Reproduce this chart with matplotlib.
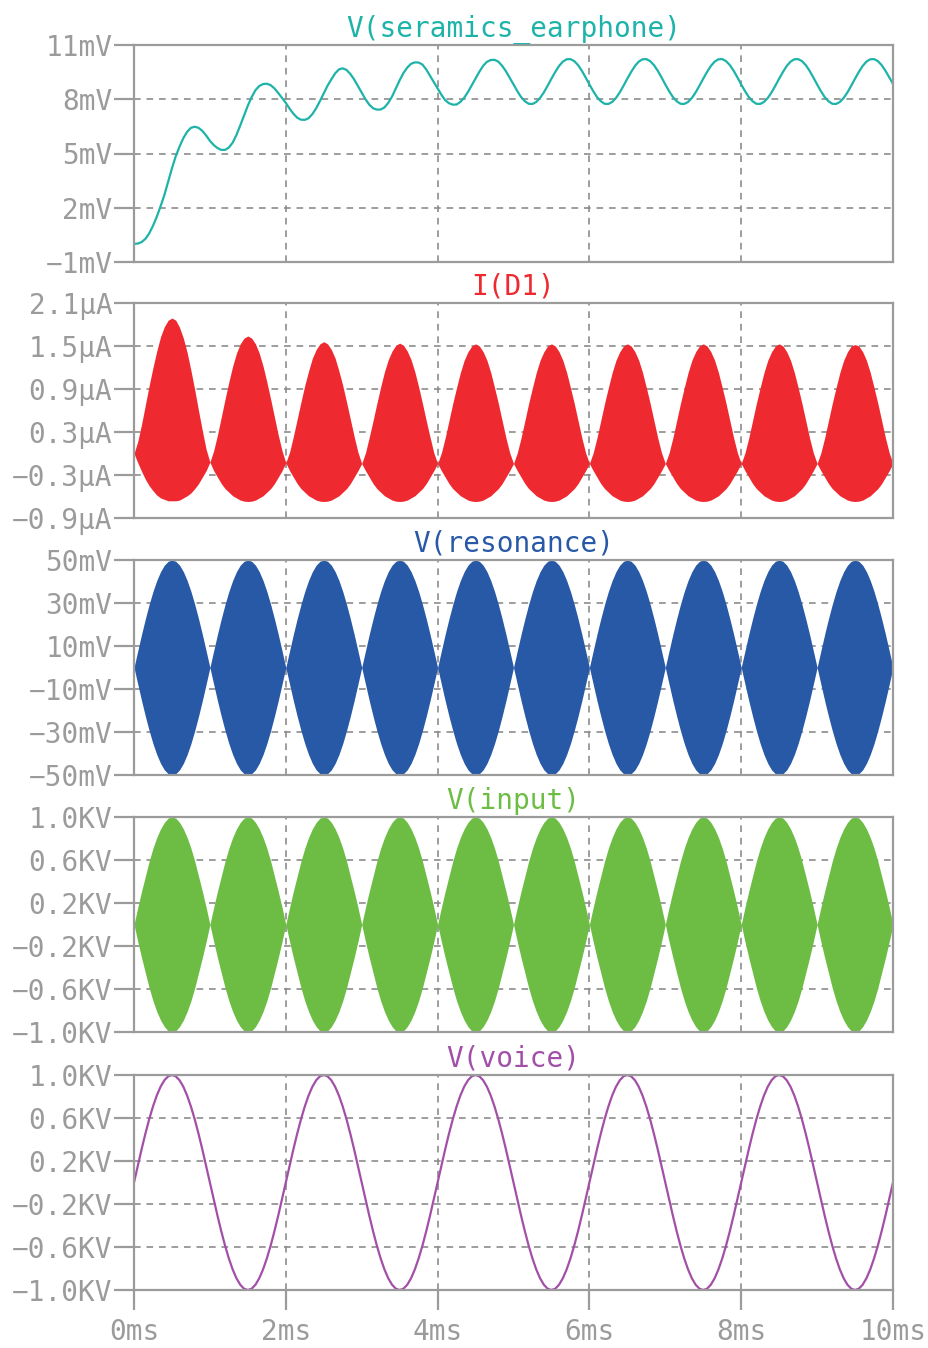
import numpy as np
import matplotlib
matplotlib.use("Agg")
import matplotlib.pyplot as plt
from matplotlib.ticker import FixedLocator, FixedFormatter

# ---------------- data (sampled every 0.05 ms, 0..10 ms) ----------------
t = np.linspace(0, 10, 201)  # ms

earphone_mV = [
    0.0, 0.02, 0.1, 0.28, 0.58, 1.0, 1.5, 2.08, 2.7, 3.45,
    4.18, 4.85, 5.38, 5.85, 6.2, 6.42, 6.48, 6.42, 6.25, 6.0,
    5.7, 5.47, 5.3, 5.2, 5.2, 5.33, 5.6, 6.03, 6.55, 7.1,
    7.65, 8.12, 8.5, 8.73, 8.84, 8.86, 8.78, 8.6, 8.35, 8.08,
    7.8, 7.48, 7.2, 6.98, 6.87, 6.86, 6.95, 7.18, 7.5, 7.9,
    8.33, 8.75, 9.1, 9.43, 9.65, 9.71, 9.62, 9.4, 9.1, 8.73,
    8.35, 8.0, 7.7, 7.5, 7.43, 7.43, 7.55, 7.8, 8.15, 8.6,
    9.05, 9.45, 9.75, 9.96, 10.04, 10.03, 9.92, 9.65, 9.3, 8.95,
    8.6, 8.25, 7.95, 7.78, 7.7, 7.71, 7.85, 8.08, 8.4, 8.77,
    9.15, 9.52, 9.85, 10.07, 10.17, 10.18, 10.08, 9.85, 9.55, 9.19,
    8.82, 8.45, 8.12, 7.89, 7.75, 7.74, 7.85, 8.07, 8.38, 8.75,
    9.14, 9.51, 9.84, 10.08, 10.21, 10.22, 10.11, 9.89, 9.58, 9.21,
    8.82, 8.45, 8.12, 7.89, 7.75, 7.74, 7.85, 8.07, 8.38, 8.75,
    9.14, 9.51, 9.84, 10.08, 10.21, 10.22, 10.11, 9.89, 9.58, 9.21,
    8.82, 8.45, 8.12, 7.89, 7.75, 7.74, 7.85, 8.07, 8.38, 8.75,
    9.14, 9.51, 9.84, 10.08, 10.21, 10.22, 10.11, 9.89, 9.58, 9.21,
    8.82, 8.45, 8.12, 7.89, 7.75, 7.74, 7.85, 8.07, 8.38, 8.75,
    9.14, 9.51, 9.84, 10.08, 10.21, 10.22, 10.11, 9.89, 9.58, 9.21,
    8.82, 8.45, 8.12, 7.89, 7.75, 7.74, 7.85, 8.07, 8.38, 8.75,
    9.14, 9.51, 9.84, 10.08, 10.21, 10.22, 10.11, 9.89, 9.58, 9.21,
    8.85,
]

id1_upper_uA = [
    0.0, 0.17, 0.41, 0.68, 0.95, 1.20, 1.43, 1.63, 1.77, 1.86,
    1.89, 1.86, 1.76, 1.61, 1.41, 1.16, 0.89, 0.60, 0.32, 0.06,
    -0.12, 0.04, 0.26, 0.51, 0.76, 1.00, 1.22, 1.40, 1.53, 1.61,
    1.64, 1.61, 1.53, 1.40, 1.22, 1.00, 0.76, 0.51, 0.26, 0.04,
    -0.13, 0.02, 0.24, 0.48, 0.72, 0.95, 1.15, 1.33, 1.45, 1.53,
    1.56, 1.53, 1.45, 1.33, 1.15, 0.95, 0.72, 0.48, 0.24, 0.02,
    -0.14, 0.01, 0.23, 0.46, 0.70, 0.93, 1.14, 1.31, 1.43, 1.51,
    1.54, 1.51, 1.43, 1.31, 1.14, 0.93, 0.70, 0.46, 0.23, 0.01,
    -0.14, 0.01, 0.22, 0.46, 0.70, 0.92, 1.13, 1.30, 1.42, 1.50,
    1.53, 1.50, 1.42, 1.30, 1.13, 0.92, 0.70, 0.46, 0.22, 0.01,
    -0.14, 0.01, 0.22, 0.46, 0.70, 0.92, 1.13, 1.30, 1.42, 1.50,
    1.53, 1.50, 1.42, 1.30, 1.13, 0.92, 0.70, 0.46, 0.22, 0.01,
    -0.14, 0.01, 0.22, 0.46, 0.70, 0.92, 1.13, 1.30, 1.42, 1.50,
    1.53, 1.50, 1.42, 1.30, 1.13, 0.92, 0.70, 0.46, 0.22, 0.01,
    -0.14, 0.01, 0.22, 0.46, 0.70, 0.92, 1.13, 1.30, 1.42, 1.50,
    1.53, 1.50, 1.42, 1.30, 1.13, 0.92, 0.70, 0.46, 0.22, 0.01,
    -0.14, 0.01, 0.22, 0.46, 0.70, 0.92, 1.13, 1.30, 1.42, 1.50,
    1.53, 1.50, 1.42, 1.30, 1.13, 0.92, 0.70, 0.46, 0.22, 0.01,
    -0.14, 0.01, 0.22, 0.46, 0.70, 0.92, 1.13, 1.30, 1.42, 1.50,
    1.52, 1.50, 1.42, 1.30, 1.13, 0.92, 0.70, 0.46, 0.22, 0.01,
    -0.14,
]

id1_lower_uA = [
    0.0, -0.13, -0.25, -0.36, -0.45, -0.52, -0.58, -0.62, -0.64, -0.66,
    -0.66, -0.66, -0.65, -0.62, -0.59, -0.55, -0.49, -0.42, -0.33, -0.24,
    -0.12, -0.24, -0.33, -0.42, -0.49, -0.54, -0.59, -0.62, -0.65, -0.665,
    -0.67, -0.665, -0.65, -0.62, -0.59, -0.54, -0.49, -0.42, -0.33, -0.24,
    -0.13, -0.24, -0.33, -0.42, -0.49, -0.54, -0.59, -0.62, -0.65, -0.665,
    -0.67, -0.665, -0.65, -0.62, -0.59, -0.54, -0.49, -0.42, -0.33, -0.24,
    -0.14, -0.24, -0.33, -0.42, -0.49, -0.54, -0.59, -0.62, -0.65, -0.665,
    -0.67, -0.665, -0.65, -0.62, -0.59, -0.54, -0.49, -0.42, -0.33, -0.24,
    -0.14, -0.24, -0.33, -0.42, -0.49, -0.54, -0.59, -0.62, -0.65, -0.665,
    -0.67, -0.665, -0.65, -0.62, -0.59, -0.54, -0.49, -0.42, -0.33, -0.24,
    -0.14, -0.24, -0.33, -0.42, -0.49, -0.54, -0.59, -0.62, -0.65, -0.665,
    -0.67, -0.665, -0.65, -0.62, -0.59, -0.54, -0.49, -0.42, -0.33, -0.24,
    -0.14, -0.24, -0.33, -0.42, -0.49, -0.54, -0.59, -0.62, -0.65, -0.665,
    -0.67, -0.665, -0.65, -0.62, -0.59, -0.54, -0.49, -0.42, -0.33, -0.24,
    -0.14, -0.24, -0.33, -0.42, -0.49, -0.54, -0.59, -0.62, -0.65, -0.665,
    -0.67, -0.665, -0.65, -0.62, -0.59, -0.54, -0.49, -0.42, -0.33, -0.24,
    -0.14, -0.24, -0.33, -0.42, -0.49, -0.54, -0.59, -0.62, -0.65, -0.665,
    -0.67, -0.665, -0.65, -0.62, -0.59, -0.54, -0.49, -0.42, -0.33, -0.24,
    -0.14, -0.24, -0.33, -0.42, -0.49, -0.54, -0.59, -0.62, -0.65, -0.665,
    -0.67, -0.665, -0.65, -0.62, -0.59, -0.54, -0.49, -0.42, -0.33, -0.24,
    -0.14,
]

resonance_env_mV = [
    0, 7.8, 15.5, 22.7, 29.4, 35.4, 40.5, 44.6, 47.6, 49.4, 50, 49.4, 47.6, 44.6, 40.5, 35.4, 29.4, 22.7, 15.5, 7.8,
    0, 7.8, 15.5, 22.7, 29.4, 35.4, 40.5, 44.6, 47.6, 49.4, 50, 49.4, 47.6, 44.6, 40.5, 35.4, 29.4, 22.7, 15.5, 7.8,
    0, 7.8, 15.5, 22.7, 29.4, 35.4, 40.5, 44.6, 47.6, 49.4, 50, 49.4, 47.6, 44.6, 40.5, 35.4, 29.4, 22.7, 15.5, 7.8,
    0, 7.8, 15.5, 22.7, 29.4, 35.4, 40.5, 44.6, 47.6, 49.4, 50, 49.4, 47.6, 44.6, 40.5, 35.4, 29.4, 22.7, 15.5, 7.8,
    0, 7.8, 15.5, 22.7, 29.4, 35.4, 40.5, 44.6, 47.6, 49.4, 50, 49.4, 47.6, 44.6, 40.5, 35.4, 29.4, 22.7, 15.5, 7.8,
    0, 7.8, 15.5, 22.7, 29.4, 35.4, 40.5, 44.6, 47.6, 49.4, 50, 49.4, 47.6, 44.6, 40.5, 35.4, 29.4, 22.7, 15.5, 7.8,
    0, 7.8, 15.5, 22.7, 29.4, 35.4, 40.5, 44.6, 47.6, 49.4, 50, 49.4, 47.6, 44.6, 40.5, 35.4, 29.4, 22.7, 15.5, 7.8,
    0, 7.8, 15.5, 22.7, 29.4, 35.4, 40.5, 44.6, 47.6, 49.4, 50, 49.4, 47.6, 44.6, 40.5, 35.4, 29.4, 22.7, 15.5, 7.8,
    0, 7.8, 15.5, 22.7, 29.4, 35.4, 40.5, 44.6, 47.6, 49.4, 50, 49.4, 47.6, 44.6, 40.5, 35.4, 29.4, 22.7, 15.5, 7.8,
    0, 7.8, 15.5, 22.7, 29.4, 35.4, 40.5, 44.6, 47.6, 49.4, 50, 49.4, 47.6, 44.6, 40.5, 35.4, 29.4, 22.7, 15.5, 7.8,
    0,
]

input_env_KV = [
    0, .16, .31, .45, .59, .71, .81, .89, .95, .99, 1.0, .99, .95, .89, .81, .71, .59, .45, .31, .16,
    0, .16, .31, .45, .59, .71, .81, .89, .95, .99, 1.0, .99, .95, .89, .81, .71, .59, .45, .31, .16,
    0, .16, .31, .45, .59, .71, .81, .89, .95, .99, 1.0, .99, .95, .89, .81, .71, .59, .45, .31, .16,
    0, .16, .31, .45, .59, .71, .81, .89, .95, .99, 1.0, .99, .95, .89, .81, .71, .59, .45, .31, .16,
    0, .16, .31, .45, .59, .71, .81, .89, .95, .99, 1.0, .99, .95, .89, .81, .71, .59, .45, .31, .16,
    0, .16, .31, .45, .59, .71, .81, .89, .95, .99, 1.0, .99, .95, .89, .81, .71, .59, .45, .31, .16,
    0, .16, .31, .45, .59, .71, .81, .89, .95, .99, 1.0, .99, .95, .89, .81, .71, .59, .45, .31, .16,
    0, .16, .31, .45, .59, .71, .81, .89, .95, .99, 1.0, .99, .95, .89, .81, .71, .59, .45, .31, .16,
    0, .16, .31, .45, .59, .71, .81, .89, .95, .99, 1.0, .99, .95, .89, .81, .71, .59, .45, .31, .16,
    0, .16, .31, .45, .59, .71, .81, .89, .95, .99, 1.0, .99, .95, .89, .81, .71, .59, .45, .31, .16,
    0,
]

voice_KV = [
    0, .156, .309, .454, .588, .707, .809, .891, .951, .988, 1.0, .988, .951, .891, .809, .707, .588, .454, .309, .156,
    0, -.156, -.309, -.454, -.588, -.707, -.809, -.891, -.951, -.988, -1.0, -.988, -.951, -.891, -.809, -.707, -.588, -.454, -.309, -.156,
    0, .156, .309, .454, .588, .707, .809, .891, .951, .988, 1.0, .988, .951, .891, .809, .707, .588, .454, .309, .156,
    0, -.156, -.309, -.454, -.588, -.707, -.809, -.891, -.951, -.988, -1.0, -.988, -.951, -.891, -.809, -.707, -.588, -.454, -.309, -.156,
    0, .156, .309, .454, .588, .707, .809, .891, .951, .988, 1.0, .988, .951, .891, .809, .707, .588, .454, .309, .156,
    0, -.156, -.309, -.454, -.588, -.707, -.809, -.891, -.951, -.988, -1.0, -.988, -.951, -.891, -.809, -.707, -.588, -.454, -.309, -.156,
    0, .156, .309, .454, .588, .707, .809, .891, .951, .988, 1.0, .988, .951, .891, .809, .707, .588, .454, .309, .156,
    0, -.156, -.309, -.454, -.588, -.707, -.809, -.891, -.951, -.988, -1.0, -.988, -.951, -.891, -.809, -.707, -.588, -.454, -.309, -.156,
    0, .156, .309, .454, .588, .707, .809, .891, .951, .988, 1.0, .988, .951, .891, .809, .707, .588, .454, .309, .156,
    0, -.156, -.309, -.454, -.588, -.707, -.809, -.891, -.951, -.988, -1.0, -.988, -.951, -.891, -.809, -.707, -.588, -.454, -.309, -.156,
    0,
]

titles = ["V(seramics_earphone)", "I(D1)", "V(resonance)", "V(input)", "V(voice)"]
colors = ["#1db3a9", "#ee2a30", "#2859a6", "#6dbd45", "#a24fa8"]

y_ticks_1 = [-1, 2, 5, 8, 11]
y_labels_1 = ["\u22121mV", "2mV", "5mV", "8mV", "11mV"]
y_ticks_2 = [-0.9, -0.3, 0.3, 0.9, 1.5, 2.1]
y_labels_2 = ["\u22120.9\u00b5A", "\u22120.3\u00b5A", "0.3\u00b5A", "0.9\u00b5A", "1.5\u00b5A", "2.1\u00b5A"]
y_ticks_3 = [-50, -30, -10, 10, 30, 50]
y_labels_3 = ["\u221250mV", "\u221230mV", "\u221210mV", "10mV", "30mV", "50mV"]
y_ticks_kv = [-1.0, -0.6, -0.2, 0.2, 0.6, 1.0]
y_labels_kv = ["\u22121.0KV", "\u22120.6KV", "\u22120.2KV", "0.2KV", "0.6KV", "1.0KV"]

x_ticks = [0, 2, 4, 6, 8, 10]
x_labels = ["0ms", "2ms", "4ms", "6ms", "8ms", "10ms"]

# ---------------- figure ----------------
W, H = 929, 1348
plt.rcParams["font.family"] = ["DejaVu Sans Mono", "DejaVu Sans"]
fig = plt.figure(figsize=(W / 100, H / 100), dpi=100)

GRAY = "#9b9b9b"
GRID = "#8c8c8c"
FS = 20

panels_px = [(45, 262), (303, 518), (560, 775), (817, 1032), (1075, 1290)]
left_px, right_px = 134, 893

yticks_all = [y_ticks_1, y_ticks_2, y_ticks_3, y_ticks_kv, y_ticks_kv]
ylabels_all = [y_labels_1, y_labels_2, y_labels_3, y_labels_kv, y_labels_kv]

axes = []
for i, (top, bot) in enumerate(panels_px):
    ax = fig.add_axes([left_px / W, 1 - bot / H, (right_px - left_px) / W, (bot - top) / H])
    axes.append(ax)
    yt = yticks_all[i]
    ax.set_xlim(0, 10)
    ax.set_ylim(yt[0], yt[-1])
    ax.yaxis.set_major_locator(FixedLocator(yt))
    ax.yaxis.set_major_formatter(FixedFormatter(ylabels_all[i]))
    ax.xaxis.set_major_locator(FixedLocator(x_ticks))
    for s in ax.spines.values():
        s.set_color(GRAY)
        s.set_linewidth(1.6)
        s.set_zorder(3)
    ax.tick_params(axis="y", direction="out", length=14.5, width=1.6, color=GRAY,
                   labelcolor=GRAY, labelsize=FS, pad=1)
    if i == 4:
        ax.xaxis.set_major_formatter(FixedFormatter(x_labels))
        ax.tick_params(axis="x", direction="out", length=14.5, width=1.6, color=GRAY,
                       labelcolor=GRAY, labelsize=FS, pad=6)
    else:
        ax.tick_params(axis="x", length=0, labelbottom=False)
    for yv in yt[1:-1]:
        ax.axhline(yv, color=GRID, lw=1.2, ls=(0, (4, 3.5)), zorder=0.5)
    for xv in x_ticks[1:-1]:
        ax.axvline(xv, color=GRID, lw=1.2, ls=(0, (4, 3.5)), zorder=0.5)
    ax.set_title(titles[i], color=colors[i], fontsize=FS, pad=6)

env_r = np.array(resonance_env_mV)
env_i = np.array(input_env_KV)

axes[0].plot(t, earphone_mV, color=colors[0], lw=1.6, zorder=2)
axes[1].fill_between(t, id1_lower_uA, id1_upper_uA, color=colors[1], lw=0, zorder=2)
axes[2].fill_between(t, -env_r, env_r, color=colors[2], lw=0, zorder=2)
axes[3].fill_between(t, -env_i, env_i, color=colors[3], lw=0, zorder=2)
axes[4].plot(t, voice_KV, color=colors[4], lw=1.6, zorder=2)

fig.savefig("out.png", dpi=100)
